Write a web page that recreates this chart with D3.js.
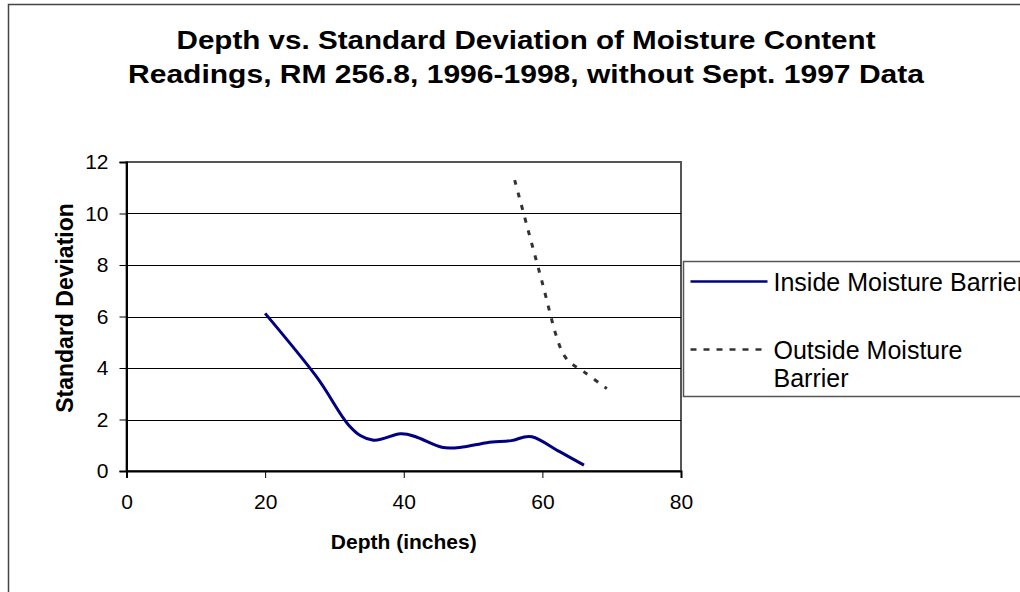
<!DOCTYPE html>
<html>
<head>
<meta charset="utf-8">
<script src="https://d3js.org/d3.v7.min.js"></script>
<style>
    body { margin: 0; background: #fff; }
    text { font-family: "Liberation Sans", Arial, sans-serif; }
</style>
</head>
<body>
<div id="chart"></div>
<script>
// depth (inches), standard deviation
var insideDepth = [20, 27.3, 32, 35.5, 39.5, 42, 45.5, 48.5, 52, 55.5, 58.5, 62.5, 66];
var insideSD = [6.12, 3.7, 1.8, 1.2, 1.45, 1.3, 0.92, 0.93, 1.1, 1.18, 1.33, 0.75, 0.23];

var outsideDepth = [56, 58, 60, 62, 63.5, 66, 69.3];
var outsideSD = [11.3, 9.3, 7.3, 5.25, 4.35, 3.85, 3.2];

var xTicks = [0, 20, 40, 60, 80];
var yTicks = [0, 2, 4, 6, 8, 10, 12];
var seriesNames = ["Inside Moisture Barrier", "Outside Moisture Barrier"];
var titleLines = ["Depth vs. Standard Deviation of Moisture Content",
    "Readings, RM 256.8, 1996-1998, without Sept. 1997 Data"];

var inside = insideDepth.map(function(d, i) { return { x: d, y: insideSD[i] }; });
var outside = outsideDepth.map(function(d, i) { return { x: d, y: outsideSD[i] }; });

//Dimension and Margin
var margin = { top: 162, left: 126.5 };
var width = 681 - margin.left;
var height = 471 - margin.top;

var svg = d3.select("#chart")
    .append("svg")
    .attr("width", 1020)
    .attr("height", 592);

// chart frame
svg.append("rect")
    .attr("x", 8.5)
    .attr("y", 4.5)
    .attr("width", 1100)
    .attr("height", 700)
    .attr("fill", "#fff")
    .attr("stroke", "#444")
    .attr("stroke-width", 1.5);

// Title
svg.selectAll(".title")
    .data(titleLines)
    .enter().append("text")
    .attr("class", "title")
    .attr("x", 526)
    .attr("y", function(d, i) { return 49 + i * 34; })
    .attr("text-anchor", "middle")
    .attr("font-size", 26)
    .attr("font-weight", "bold")
    .attr("textLength", function(d, i) { return i == 0 ? 699 : 796; })
    .attr("lengthAdjust", "spacingAndGlyphs")
    .text(function(d) { return d; });

var xScale = d3.scaleLinear()
    .range([0, width])
    .domain([0, 80]);

var yScale = d3.scaleLinear()
    .range([height, 0])
    .domain([0, 12]);

var g = svg.append("g")
    .attr("transform", "translate(" + margin.left + "," + margin.top + ")");

// plot border
g.append("rect")
    .attr("width", width)
    .attr("height", height)
    .attr("fill", "#fff")
    .attr("stroke", "#555")
    .attr("stroke-width", 2);

// gridlines
g.selectAll(".grid")
    .data(yTicks.slice(1, yTicks.length - 1))
    .enter().append("line")
    .attr("class", "grid")
    .attr("x1", 0)
    .attr("x2", width)
    .attr("y1", function(d) { return Math.round(yScale(d)) + 0.5; })
    .attr("y2", function(d) { return Math.round(yScale(d)) + 0.5; })
    .attr("stroke", "#000")
    .attr("stroke-width", 1);

//X-Axis
var xAxis = g.append("g")
    .attr("transform", "translate(0," + height + ")")
    .call(d3.axisBottom(xScale).tickValues(xTicks).tickSize(7).tickPadding(16));
xAxis.select(".domain").attr("stroke-width", 2);
xAxis.selectAll("text")
    .attr("font-size", 21)
    .attr("font-family", "Liberation Sans, Arial, sans-serif")
    .attr("fill", "#000");

svg.append("text")
    .attr("x", margin.left + width / 2)
    .attr("y", 549)
    .attr("text-anchor", "middle")
    .attr("font-size", 21)
    .attr("font-weight", "bold")
    .text("Depth (inches)");

//Y-Axis
var yAxis = g.append("g")
    .call(d3.axisLeft(yScale).tickValues(yTicks).tickSize(7).tickPadding(11));
yAxis.select(".domain").attr("stroke-width", 2);
yAxis.selectAll("text")
    .attr("font-size", 21)
    .attr("font-family", "Liberation Sans, Arial, sans-serif")
    .attr("fill", "#000");

svg.append("text")
    .attr("transform", "translate(73,308) rotate(-90)")
    .attr("text-anchor", "middle")
    .attr("font-size", 23)
    .attr("font-weight", "bold")
    .text("Standard Deviation");

// Lines
var line = d3.line()
    .x(function(d) { return xScale(d.x); })
    .y(function(d) { return yScale(d.y); })
    .curve(d3.curveCardinal.tension(0));

g.append("path")
    .datum(inside)
    .attr("d", line)
    .attr("fill", "none")
    .attr("stroke", "#000080")
    .attr("stroke-width", 3);

g.append("path")
    .datum(outside)
    .attr("d", line)
    .attr("fill", "none")
    .attr("stroke", "#333")
    .attr("stroke-width", 3)
    .attr("stroke-dasharray", "5,8");

// Legend
var legend = svg.append("g")
    .attr("transform", "translate(683.5,261.5)");

legend.append("rect")
    .attr("width", 400)
    .attr("height", 135)
    .attr("fill", "#fff")
    .attr("stroke", "#555")
    .attr("stroke-width", 1.5);

legend.append("line")
    .attr("x1", 7).attr("x2", 84)
    .attr("y1", 20).attr("y2", 20)
    .attr("stroke", "#000080")
    .attr("stroke-width", 2.5);

legend.append("line")
    .attr("x1", 7).attr("x2", 84)
    .attr("y1", 88).attr("y2", 88)
    .attr("stroke", "#333")
    .attr("stroke-width", 2.5)
    .attr("stroke-dasharray", "6,7");

legend.append("text")
    .attr("x", 90)
    .attr("y", 29)
    .attr("font-size", 25)
    .text(seriesNames[0]);

legend.append("text")
    .attr("x", 90)
    .attr("y", 97)
    .attr("font-size", 25)
    .text("Outside Moisture");

legend.append("text")
    .attr("x", 90)
    .attr("y", 125)
    .attr("font-size", 25)
    .text("Barrier");
</script>
</body>
</html>
